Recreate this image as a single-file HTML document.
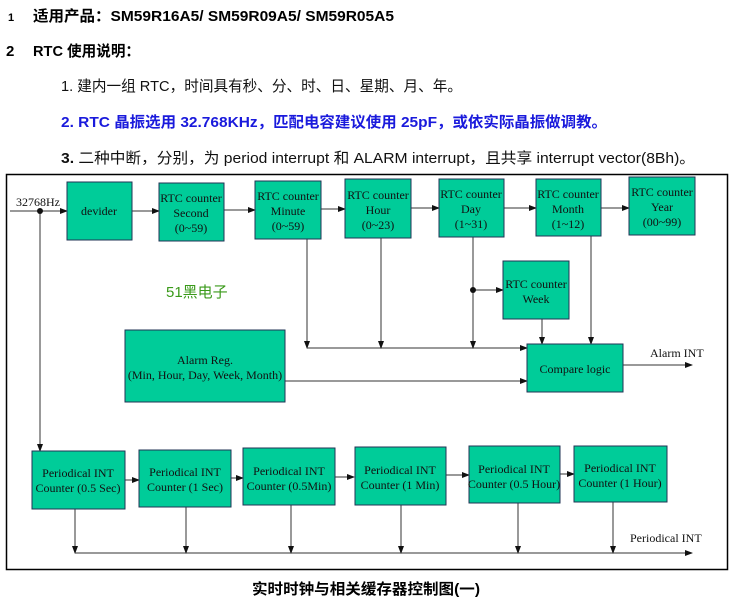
<!DOCTYPE html>
<html><head><meta charset="utf-8"><style>
html,body{margin:0;padding:0;background:#fff;width:734px;height:604px;overflow:hidden}
svg{display:block}
.t{font-family:"Liberation Sans","Noto Sans CJK SC",sans-serif}
.s{font-family:"Liberation Serif","Noto Serif CJK SC",serif;font-size:12px;fill:#111}
</style></head><body>
<svg width="734" height="604" viewBox="0 0 734 604" xmlns="http://www.w3.org/2000/svg">
<defs><marker id="a" markerWidth="8" markerHeight="6" refX="7" refY="3" orient="auto" markerUnits="userSpaceOnUse"><path d="M0,0L8,3L0,6z" fill="#111"/></marker></defs>
<g class="t" font-weight="bold" fill="#000">
<text x="8" y="21" font-size="11">1</text>
<text x="33" y="21" font-size="15" textLength="361" lengthAdjust="spacingAndGlyphs">适用产品：SM59R16A5/ SM59R09A5/ SM59R05A5</text>
<text x="6" y="56" font-size="15">2</text>
<text x="33" y="56" font-size="15" textLength="107" lengthAdjust="spacingAndGlyphs">RTC 使用说明：</text>
</g>
<text class="t" x="61" y="91" font-size="15" fill="#111" textLength="401" lengthAdjust="spacingAndGlyphs">1.  建内一组 RTC，时间具有秒、分、时、日、星期、月、年。</text>
<text class="t" x="61" y="127" font-size="15" font-weight="bold" fill="#1a1adc" textLength="546" lengthAdjust="spacingAndGlyphs">2.  RTC 晶振选用 32.768KHz，匹配电容建议使用 25pF，或依实际晶振做调教。</text>
<text class="t" x="61" y="163" font-size="15" fill="#111" textLength="634" lengthAdjust="spacingAndGlyphs"><tspan font-weight="bold">3.</tspan>  二种中断，分别，为 period interrupt 和 ALARM interrupt，且共享 interrupt vector(8Bh)。</text>
<rect x="6.5" y="174.5" width="721" height="395" fill="none" stroke="#000" stroke-width="1.5"/>
<g stroke="#333" stroke-width="1" fill="none">
<line x1="10" y1="211" x2="67" y2="211" marker-end="url(#a)"/>
<line x1="40" y1="211" x2="40" y2="451" marker-end="url(#a)"/>
<line x1="132" y1="211" x2="159" y2="211" marker-end="url(#a)"/>
<line x1="224" y1="210" x2="255" y2="210" marker-end="url(#a)"/>
<line x1="321" y1="209" x2="345" y2="209" marker-end="url(#a)"/>
<line x1="411" y1="208" x2="439" y2="208" marker-end="url(#a)"/>
<line x1="504" y1="208" x2="536" y2="208" marker-end="url(#a)"/>
<line x1="601" y1="208" x2="629" y2="208" marker-end="url(#a)"/>
<line x1="307" y1="239" x2="307" y2="348" marker-end="url(#a)"/>
<line x1="307" y1="348" x2="527" y2="348" marker-end="url(#a)"/>
<line x1="381" y1="238" x2="381" y2="348" marker-end="url(#a)"/>
<line x1="473" y1="237" x2="473" y2="348" marker-end="url(#a)"/>
<line x1="473" y1="290" x2="503" y2="290" marker-end="url(#a)"/>
<line x1="542" y1="319" x2="542" y2="344" marker-end="url(#a)"/>
<line x1="591" y1="236" x2="591" y2="344" marker-end="url(#a)"/>
<line x1="285" y1="381" x2="527" y2="381" marker-end="url(#a)"/>
<line x1="623" y1="365" x2="692" y2="365" marker-end="url(#a)"/>
<line x1="125" y1="480" x2="139" y2="480" marker-end="url(#a)"/>
<line x1="231" y1="478" x2="243" y2="478" marker-end="url(#a)"/>
<line x1="335" y1="477" x2="354" y2="477" marker-end="url(#a)"/>
<line x1="446" y1="475" x2="469" y2="475" marker-end="url(#a)"/>
<line x1="560" y1="474" x2="574" y2="474" marker-end="url(#a)"/>
<line x1="75" y1="509" x2="75" y2="553" marker-end="url(#a)"/>
<line x1="186" y1="507" x2="186" y2="553" marker-end="url(#a)"/>
<line x1="291" y1="505" x2="291" y2="553" marker-end="url(#a)"/>
<line x1="401" y1="505" x2="401" y2="553" marker-end="url(#a)"/>
<line x1="518" y1="503" x2="518" y2="553" marker-end="url(#a)"/>
<line x1="613" y1="502" x2="613" y2="553" marker-end="url(#a)"/>
<line x1="75" y1="553" x2="692" y2="553" marker-end="url(#a)"/>
</g>
<circle cx="40" cy="211" r="3" fill="#111"/>
<circle cx="473" cy="290" r="3" fill="#111"/>
<g fill="#00cc99" stroke="#235" stroke-width="1">
<rect x="67" y="182" width="65" height="58"/>
<rect x="159" y="183" width="65" height="58"/>
<rect x="255" y="181" width="66" height="58"/>
<rect x="345" y="179" width="66" height="59"/>
<rect x="439" y="179" width="65" height="58"/>
<rect x="536" y="179" width="65" height="57"/>
<rect x="629" y="177" width="66" height="58"/>
<rect x="503" y="261" width="66" height="58"/>
<rect x="125" y="330" width="160" height="72"/>
<rect x="527" y="344" width="96" height="48"/>
<rect x="32" y="451" width="93" height="58"/>
<rect x="139" y="450" width="92" height="57"/>
<rect x="243" y="448" width="92" height="57"/>
<rect x="355" y="447" width="91" height="58"/>
<rect x="469" y="446" width="91" height="57"/>
<rect x="574" y="446" width="93" height="56"/>
</g>
<g class="s" text-anchor="middle">
<text x="99" y="215">devider</text>
<text x="191" y="202">RTC counter</text><text x="191" y="217">Second</text><text x="191" y="232">(0~59)</text>
<text x="288" y="200">RTC counter</text><text x="288" y="215">Minute</text><text x="288" y="230">(0~59)</text>
<text x="378" y="199">RTC counter</text><text x="378" y="214">Hour</text><text x="378" y="229">(0~23)</text>
<text x="471" y="198">RTC counter</text><text x="471" y="213">Day</text><text x="471" y="228">(1~31)</text>
<text x="568" y="198">RTC counter</text><text x="568" y="213">Month</text><text x="568" y="228">(1~12)</text>
<text x="662" y="196">RTC counter</text><text x="662" y="211">Year</text><text x="662" y="226">(00~99)</text>
<text x="536" y="288">RTC counter</text><text x="536" y="303">Week</text>
<text x="205" y="364">Alarm Reg.</text><text x="205" y="379">(Min, Hour, Day, Week, Month)</text>
<text x="575" y="373">Compare logic</text>
<text x="78" y="477">Periodical INT</text><text x="78" y="492">Counter (0.5 Sec)</text>
<text x="185" y="476">Periodical INT</text><text x="185" y="491">Counter (1 Sec)</text>
<text x="289" y="475">Periodical INT</text><text x="289" y="490">Counter (0.5Min)</text>
<text x="400" y="474">Periodical INT</text><text x="400" y="489">Counter (1 Min)</text>
<text x="514" y="473">Periodical INT</text><text x="514" y="488">Counter (0.5 Hour)</text>
<text x="620" y="472">Periodical INT</text><text x="620" y="487">Counter (1 Hour)</text>
</g>
<text class="s" x="16" y="206" font-size="13">32768Hz</text>
<text class="s" x="650" y="357" font-size="13.5">Alarm INT</text>
<text class="s" x="630" y="542" font-size="13.5">Periodical INT</text>
<text x="166" y="297" font-family="Liberation Sans,Noto Sans CJK SC,sans-serif" font-size="15" fill="#3a9a1a">51黑电子</text>
<text class="t" x="366" y="594" text-anchor="middle" font-size="15" font-weight="bold" textLength="228" lengthAdjust="spacingAndGlyphs">实时时钟与相关缓存器控制图(一)</text>
</svg>
</body></html>
